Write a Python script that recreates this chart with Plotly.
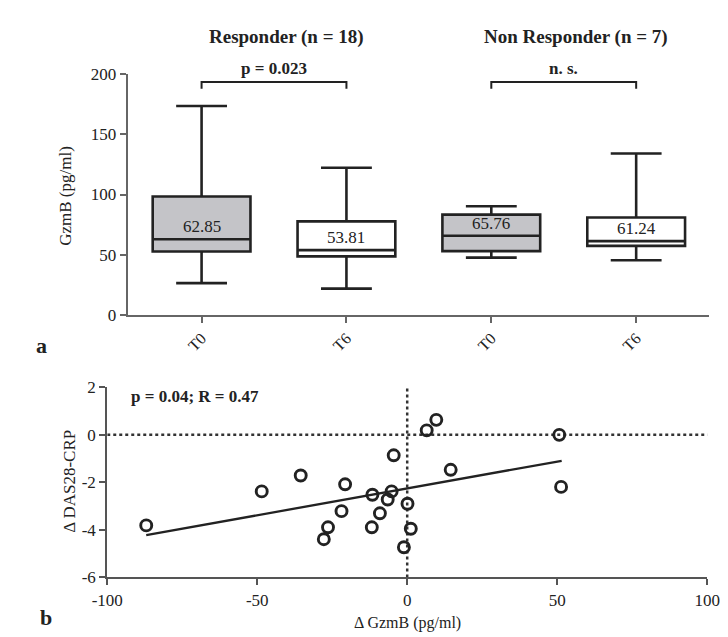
import plotly.graph_objects as go

# ---------- data: panel a (box plots) ----------
box_pos = [0, 1, 2, 3]
box_ticktext = ["T0", "T6", "T0", "T6"]
box_upper = [173.6, 122.3, 90.3, 134.1]
box_q3 = [98.4, 77.7, 83.3, 80.9]
box_median = [62.85, 53.81, 65.76, 61.24]
box_q1 = [52.7, 48.6, 53.0, 57.3]
box_lower = [26.4, 21.8, 47.6, 45.4]
box_fill = ["#c4c4c8", "#ffffff", "#c4c4c8", "#ffffff"]
median_labels = ["62.85", "53.81", "65.76", "61.24"]
gzmb_ticks = [0, 50, 100, 150, 200]

group_titles = ["Responder (n = 18)", "Non Responder (n = 7)"]
group_centers = [0.5, 2.5]
bracket_x = [[0, 0, 1, 1], [2, 2, 3, 3]]
bracket_y = [188, 193.5, 193.5, 188]
bracket_labels = ["p = 0.023", "n. s."]

# ---------- data: panel b (scatter) ----------
d_gzmb = [-87.0, -48.5, -35.5, -20.7, -21.9, -26.4, -27.8, -11.6, -11.8, -9.1,
          -6.5, -5.2, -4.5, 0.1, 1.2, -1.1, 6.5, 9.7, 50.7, 14.5, 51.3]
d_das = [-3.81, -2.38, -1.71, -2.08, -3.21, -3.89, -4.39, -2.52, -3.89, -3.30,
         -2.72, -2.38, -0.86, -2.90, -3.95, -4.73, 0.19, 0.63, 0.00, -1.47, -2.19]
fit_x = [-87.0, 51.5]
fit_y = [-4.22, -1.09]
vref_x = [0, 0]
vref_y = [-6, 2]
href_x = [-100, 102]
href_y = [0, 0]
dx_tickvals = [-100, -50, 0, 50, 100]
dx_ticktext = ["-100", "-50", "0", "50", "100"]
dy_tickvals = [-6, -4, -2, 0, 2]
dy_ticktext = ["-6", "-4", "-2", "0", "2"]

FONT = "Liberation Serif"
INK = "#222222"
AXC = "#666666"
W, H = 728, 637

fig = go.Figure()

for i in range(len(box_pos)):
    fig.add_trace(go.Box(
        x=[box_pos[i]], q1=[box_q1[i]], median=[box_median[i]], q3=[box_q3[i]],
        lowerfence=[box_lower[i]], upperfence=[box_upper[i]],
        width=0.675, whiskerwidth=0.52, fillcolor=box_fill[i],
        line=dict(color=INK, width=2.6), boxpoints=False,
        xaxis="x", yaxis="y", showlegend=False, hoverinfo="skip"))

for bx, lab, cx, title in zip(bracket_x, bracket_labels, group_centers, group_titles):
    fig.add_trace(go.Scatter(x=bx, y=bracket_y, mode="lines",
                             line=dict(color=INK, width=2), xaxis="x", yaxis="y",
                             showlegend=False, hoverinfo="skip", cliponaxis=False))
    fig.add_annotation(x=cx, y=1 - 53 / H, xref="x", yref="paper",
                       xanchor="center", yanchor="middle",
                       text="<b>%s</b>" % lab, showarrow=False,
                       font=dict(family=FONT, size=17, color=INK))
    fig.add_annotation(x=cx, y=1 - 21 / H, xref="x", yref="paper", xshift=12,
                       xanchor="center", yanchor="middle",
                       text="<b>%s</b>" % title, showarrow=False,
                       font=dict(family=FONT, size=19, color=INK))

for p, m, lab in zip(box_pos, box_median, median_labels):
    fig.add_annotation(x=p, y=m, xref="x", yref="y", text=lab, showarrow=False,
                       xanchor="center", yanchor="bottom", yshift=1,
                       font=dict(family=FONT, size=17, color=INK))

# panel b
fig.add_trace(go.Scatter(x=href_x, y=href_y, mode="lines",
                         line=dict(color="#333333", width=2.5, dash="dot"),
                         xaxis="x2", yaxis="y2", showlegend=False, hoverinfo="skip",
                         cliponaxis=False))
fig.add_trace(go.Scatter(x=vref_x, y=vref_y, mode="lines",
                         line=dict(color="#333333", width=2.5, dash="dot"),
                         xaxis="x2", yaxis="y2", showlegend=False, hoverinfo="skip",
                         cliponaxis=False))
fig.add_trace(go.Scatter(x=fit_x, y=fit_y, mode="lines",
                         line=dict(color=INK, width=2.3),
                         xaxis="x2", yaxis="y2", showlegend=False, hoverinfo="skip"))
fig.add_trace(go.Scatter(x=d_gzmb, y=d_das, mode="markers",
                         marker=dict(symbol="circle-open", size=11,
                                     line=dict(color=INK, width=2.9), color=INK),
                         xaxis="x2", yaxis="y2", showlegend=False, cliponaxis=False))

fig.add_annotation(x=-92.6, y=1.6, xref="x2", yref="y2", xanchor="left",
                   yanchor="middle",
                   text="<b>p = 0.04; R = 0.47</b>", showarrow=False,
                   font=dict(family=FONT, size=17, color=INK))

# axis titles and panel letters (paper coordinates)
for txt, (xp, yp), ang, size, bold in [
    ("GzmB (pg/ml)", (43, 184), -90, 17, False),
    ("Δ DAS28-CRP", (48, 479), -90, 17, False),
    ("Δ GzmB (pg/ml)", (399, 625), 0, 16, False),
    ("a", (18, 339), 0, 22, True),
    ("b", (23, 619), 0, 22, True),
]:
    fig.add_annotation(x=xp / W, y=1 - yp / H, xref="paper", yref="paper",
                       xanchor="center", yanchor="middle",
                       text=("<b>%s</b>" % txt) if bold else txt,
                       textangle=ang, showarrow=False,
                       font=dict(family=FONT, size=size, color=INK))

axis_common = dict(showgrid=False, zeroline=False, showline=True, linecolor=AXC,
                   linewidth=2, ticks="outside", ticklen=6, tickwidth=2,
                   tickcolor=AXC, tickfont=dict(family=FONT, size=17, color=INK))

fig.update_layout(
    width=W, height=H, margin=dict(l=0, r=0, t=0, b=0),
    paper_bgcolor="white", plot_bgcolor="white", showlegend=False,
    xaxis=dict(domain=[108 / W, 713 / W], range=[-0.51, 3.5],
               tickvals=box_pos, ticktext=box_ticktext, tickangle=-45,
               anchor="y", **{**axis_common, "tickfont": dict(family=FONT, size=16, color=INK)}),
    yaxis=dict(domain=[1 - 307 / H, 1 - 59 / H], range=[0, 200],
               tickvals=gzmb_ticks, anchor="x", **axis_common),
    xaxis2=dict(domain=[86.7 / W, 711.5 / W], range=[-100, 100],
                tickvals=dx_tickvals, ticktext=dx_ticktext, anchor="y2",
                **{**axis_common, "linecolor": "#555555", "tickcolor": "#555555"}),
    yaxis2=dict(domain=[1 - 577.7 / H, 1 - 381.7 / H], range=[-6, 2],
                tickvals=dy_tickvals, ticktext=dy_ticktext, anchor="x2",
                **{**axis_common, "linecolor": "#555555", "tickcolor": "#555555"}),
)

fig.write_html("out.html")
